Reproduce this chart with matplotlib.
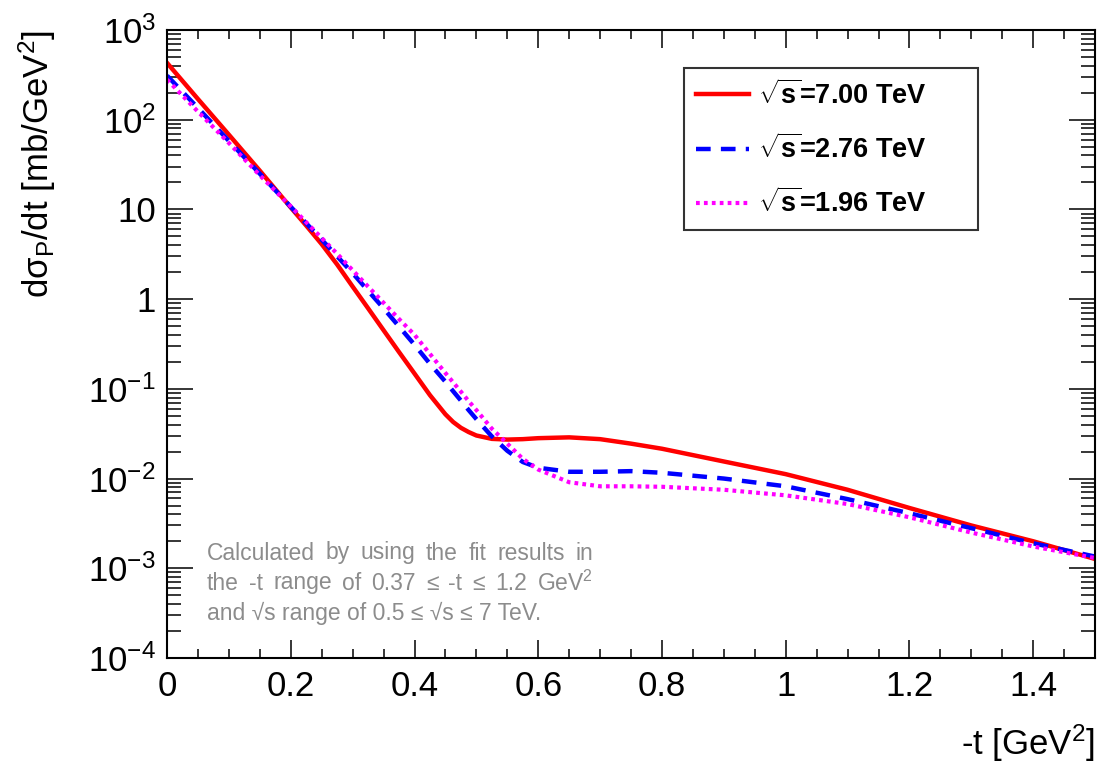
import numpy as np
import matplotlib
matplotlib.use("Agg")
import matplotlib.pyplot as plt
from matplotlib.ticker import FixedLocator, FixedFormatter, MultipleLocator, LogLocator, NullFormatter

# -t values [GeV^2]
t = [0, 0.05, 0.1, 0.15, 0.2, 0.225, 0.25, 0.275, 0.3, 0.325, 0.35, 0.375, 0.4,
     0.425, 0.45, 0.4625, 0.475, 0.4875, 0.5, 0.525, 0.55, 0.575, 0.6, 0.65, 0.7,
     0.75, 0.8, 0.9, 1.0, 1.1, 1.2, 1.3, 1.4, 1.5]

# dsigma/dt [mb/GeV^2]
ds_700 = [430, 170, 68, 27, 10.5, 6.6, 4.1, 2.43, 1.38, 0.79, 0.45, 0.257, 0.148,
          0.085, 0.052, 0.0427, 0.0368, 0.033, 0.0302, 0.0277, 0.0272, 0.0275,
          0.0282, 0.0288, 0.0275, 0.0245, 0.0215, 0.0155, 0.0112, 0.0075, 0.0047,
          0.0030, 0.0020, 0.00127]
ds_276 = [310, 135, 58, 25, 10.7, 7.0, 4.6, 3.0, 1.95, 1.24, 0.79, 0.495, 0.31,
          0.19, 0.12, 0.094, 0.074, 0.058, 0.046, 0.0295, 0.0204, 0.0153, 0.0132,
          0.0119, 0.0119, 0.0121, 0.0116, 0.0100, 0.0082, 0.0059, 0.0041, 0.0028,
          0.0019, 0.00135]
ds_196 = [280, 123, 55, 24, 10.8, 7.2, 4.8, 3.2, 2.1, 1.38, 0.91, 0.60, 0.40, 0.245,
          0.15, 0.118, 0.093, 0.073, 0.058, 0.036, 0.0245, 0.0166, 0.0126, 0.0091,
          0.0082, 0.0082, 0.0081, 0.0075, 0.0065, 0.0052, 0.0037, 0.0025, 0.00175,
          0.0013]

labels = [r"$\mathbf{\sqrt{s}}$=7.00 TeV", r"$\mathbf{\sqrt{s}}$=2.76 TeV",
          r"$\mathbf{\sqrt{s}}$=1.96 TeV"]

xticks = [0, 0.2, 0.4, 0.6, 0.8, 1.0, 1.2, 1.4]
xticklabels = ["0", "0.2", "0.4", "0.6", "0.8", "1", "1.2", "1.4"]
yticks = [1e-4, 1e-3, 1e-2, 1e-1, 1, 10, 1e2, 1e3]
yticklabels = [r"10$^{-4}$", r"10$^{-3}$", r"10$^{-2}$", r"10$^{-1}$", "1", "10",
               r"10$^{2}$", r"10$^{3}$"]

note = ["Calculated by using the fit results in",
        r"the -t range of 0.37 ≤ -t ≤ 1.2 GeV$^{2}$",
        "and √s range of 0.5 ≤ √s ≤ 7 TeV."]

plt.rcParams['font.family'] = ['Liberation Sans', 'DejaVu Sans']
plt.rcParams['mathtext.fontset'] = 'custom'
plt.rcParams['mathtext.rm'] = 'Liberation Sans'
plt.rcParams['mathtext.it'] = 'Liberation Sans:italic'
plt.rcParams['mathtext.bf'] = 'Liberation Sans:bold'

fig = plt.figure(figsize=(10.99, 7.72), dpi=100)
ax = fig.add_axes([0.152, 0.1477, 0.8444, 0.8134])

ax.plot(t, ds_700, color='#ff0000', lw=3.2, ls='-', label=labels[0])
ax.plot(t, ds_276, color='#0000ff', lw=3.2, ls=(0, (3.3, 2.3)), label=labels[1])
ax.plot(t, ds_196, color='#ff00ff', lw=3.0, ls=(0, (0.9, 1.0)), label=labels[2])

ax.set_yscale('log')
ax.set_xlim(0, 1.5)
ax.set_ylim(1e-4, 1e3)

ax.xaxis.set_major_locator(FixedLocator(xticks))
ax.xaxis.set_major_formatter(FixedFormatter(xticklabels))
ax.xaxis.set_minor_locator(MultipleLocator(0.05))
ax.yaxis.set_major_locator(FixedLocator(yticks))
ax.yaxis.set_major_formatter(FixedFormatter(yticklabels))
ax.yaxis.set_minor_locator(LogLocator(base=10, subs=np.arange(2, 10)))
ax.yaxis.set_minor_formatter(NullFormatter())

ax.tick_params(which='both', direction='in', top=True, right=True, width=1.1,
               labelsize=25, colors='black')
ax.tick_params(axis='x', which='major', length=13, pad=9)
ax.tick_params(axis='x', which='minor', length=6.5)
ax.tick_params(axis='y', which='major', length=19, pad=8)
ax.tick_params(axis='y', which='minor', length=10)
for sp in ax.spines.values():
    sp.set_linewidth(1.5)

ax.set_ylabel(r"dσ$_{\mathregular{P}}$/dt [mb/GeV$^{2}$]", fontsize=25, loc='top')
ax.yaxis.set_label_coords(-0.117, 1.0)
fig.text(0.9964, 0.022, r"-t [GeV$^{2}$]", fontsize=25, ha='right', va='baseline')

leg = ax.legend(loc='upper left', bbox_to_anchor=(0.557, 0.685, 0.317, 0.2545),
                mode='expand', prop={'weight': 'bold', 'size': 19.5}, frameon=True,
                fancybox=False, edgecolor='black', handlelength=1.95,
                handletextpad=0.35, labelspacing=0.9, borderpad=0.45, borderaxespad=0)
leg.get_frame().set_linewidth(1.5)

# note, first two lines spread out to a common width like the original
fig.canvas.draw()
rend = fig.canvas.get_renderer()
x0, x1 = 207, 593
for i, line in enumerate(note):
    y = 1 - (553 + 30 * i) / 772
    if i == 2:
        fig.text(x0 / 1099, y, line, fontsize=16.5, color='#8c8c8c', va='center')
        continue
    words = line.split(' ')
    texts = [fig.text(0, y, w, fontsize=16.5, color='#8c8c8c', va='center') for w in words]
    widths = [tx.get_window_extent(rend).width for tx in texts]
    gap = (x1 - x0 - sum(widths)) / (len(words) - 1)
    pos = x0
    for tx, w in zip(texts, widths):
        tx.set_x(pos / 1099)
        pos += w + gap

fig.savefig("out.png", dpi=100)
